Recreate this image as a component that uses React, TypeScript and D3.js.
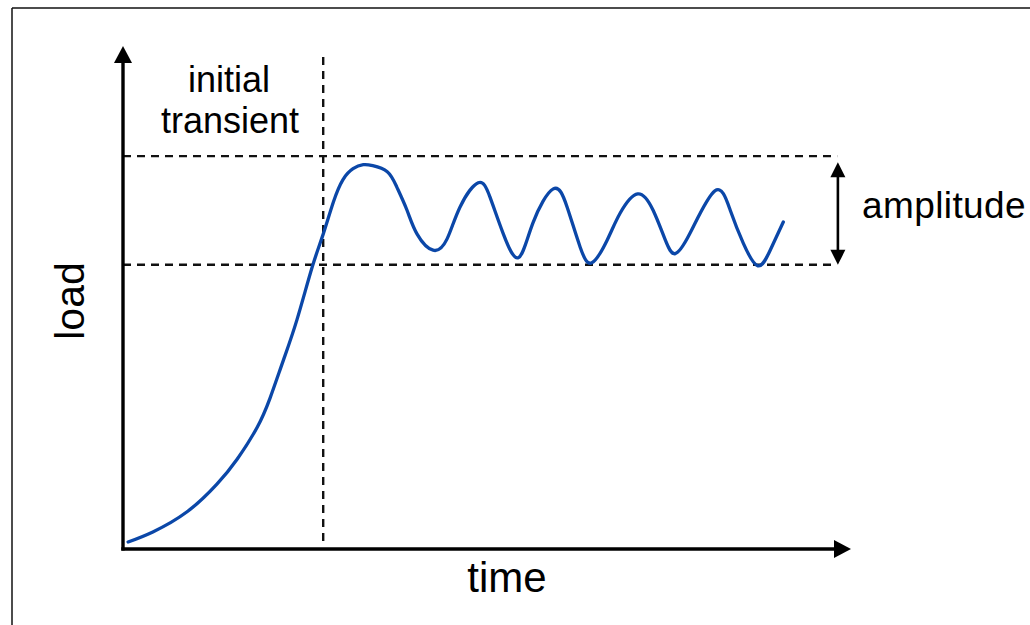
import React from "react";
import * as d3 from "d3";

// curve: time (0-100) vs load (0-100)
const times = [
  0.7, 4.1, 8.8, 12.9, 15.7, 18.4, 20.2, 22.0, 23.9, 26.0, 27.5, 28.9, 30.2, 31.6, 33.0, 34.3, 36.3, 37.6,
  39.0, 40.4, 42.6, 44.5, 46.3, 48.8, 50.4, 52.2, 54.3, 56.3, 59.1, 61.0, 62.8, 64.4, 66.5, 68.3, 70.7,
  72.8, 74.5, 75.8, 77.9, 81.3, 83.4, 85.2, 87.2, 88.9, 90.7,
];
const loads = [
  1.4, 3.4, 7.4, 12.9, 17.9, 24.1, 30.0, 37.4, 45.6, 56.1, 62.6, 69.0, 73.4, 75.6, 76.4, 76.2, 75.0, 72.0,
  67.4, 62.6, 59.4, 61.6, 68.0, 72.8, 70.0, 62.8, 57.9, 64.8, 71.6, 68.0, 60.0, 56.9, 61.4, 66.8, 70.6,
  67.4, 61.4, 58.7, 62.8, 71.2, 67.4, 60.8, 56.3, 59.4, 65.0,
];

// reference marks
const transientEnd = 27.5;
const upperLoad = 78.1;
const lowerLoad = 56.5;
const amplitudeAt = 98.2;

const labels = { x: "time", y: "load", transient: ["initial", "transient"], amplitude: "amplitude" };

const W = 1030;
const H = 625;
const BLUE = "#0b47a8";
const FONT = "'Liberation Sans', Arial, Helvetica, sans-serif";

export default function App() {
  const x = d3.scaleLinear().domain([0, 100]).range([123, 851]);
  const y = d3.scaleLinear().domain([0, 100]).range([549, 46]);

  const pts = times.map((t, i) => [t, loads[i]] as [number, number]);
  const line = d3
    .line<[number, number]>()
    .x((d) => x(d[0]))
    .y((d) => y(d[1]))
    .curve(d3.curveNatural);

  const x0 = x(0);
  const y0 = y(0);
  const xEnd = x(100);
  const yEnd = y(100);
  const ah = 17; // arrow head length
  const aw = 9; // half width

  const ax = x(amplitudeAt);
  const aTop = y(upperLoad) + 6;
  const aBot = y(lowerLoad) - 18;

  return (
    <div style={{ position: "absolute", left: 0, top: 0 }}>
      <svg width={W} height={H} style={{ display: "block", background: "#fff" }}>
        {/* frame */}
        <line x1={12} y1={8} x2={W} y2={8} stroke="#111" strokeWidth={1.5} />
        <line x1={12} y1={8} x2={12} y2={H} stroke="#111" strokeWidth={1.5} />

        {/* dashed guides */}
        <g stroke="#111" strokeWidth={2.4} strokeDasharray="8,6" fill="none">
          <line x1={x(transientEnd)} x2={x(transientEnd)} y1={y(97.8)} y2={y(0.8)} />
          <line x1={x0} x2={x(98.1)} y1={y(upperLoad)} y2={y(upperLoad)} />
          <line x1={x0} x2={x(97.6)} y1={y(lowerLoad)} y2={y(lowerLoad)} />
        </g>

        {/* axes */}
        <line x1={x0} y1={y0 + 1.5} x2={x0} y2={yEnd + ah} stroke="#000" strokeWidth={3.4} />
        <path d={`M${x0},${yEnd} L${x0 - aw},${yEnd + ah} L${x0 + aw},${yEnd + ah} Z`} fill="#000" />
        <line x1={x0 - 1.7} y1={y0} x2={xEnd - ah} y2={y0} stroke="#000" strokeWidth={3.4} />
        <path d={`M${xEnd},${y0} L${xEnd - ah},${y0 - aw} L${xEnd - ah},${y0 + aw} Z`} fill="#000" />

        {/* amplitude arrow */}
        <line x1={ax} x2={ax} y1={aTop + 12} y2={aBot + 6} stroke="#000" strokeWidth={2.6} />
        <path d={`M${ax},${aTop} L${ax - 7.5},${aTop + 15} L${ax + 7.5},${aTop + 15} Z`} fill="#000" />
        <path d={`M${ax},${aBot + 18} L${ax - 7.5},${aBot + 3} L${ax + 7.5},${aBot + 3} Z`} fill="#000" />

        {/* load curve */}
        <path d={line(pts) ?? ""} fill="none" stroke={BLUE} strokeWidth={3.3} strokeLinecap="round" />

        {/* text */}
        <g fontFamily={FONT} fill="#000">
          <text x={229} y={92} fontSize={36} textAnchor="middle">
            {labels.transient[0]}
          </text>
          <text x={230} y={133} fontSize={36} textAnchor="middle">
            {labels.transient[1]}
          </text>
          <text x={862} y={218} fontSize={37} letterSpacing={0.4}>
            {labels.amplitude}
          </text>
          <text x={507} y={592} fontSize={42} textAnchor="middle">
            {labels.x}
          </text>
          <text transform="translate(84,301) rotate(-90)" fontSize={41} textAnchor="middle">
            {labels.y}
          </text>
        </g>
      </svg>
    </div>
  );
}
